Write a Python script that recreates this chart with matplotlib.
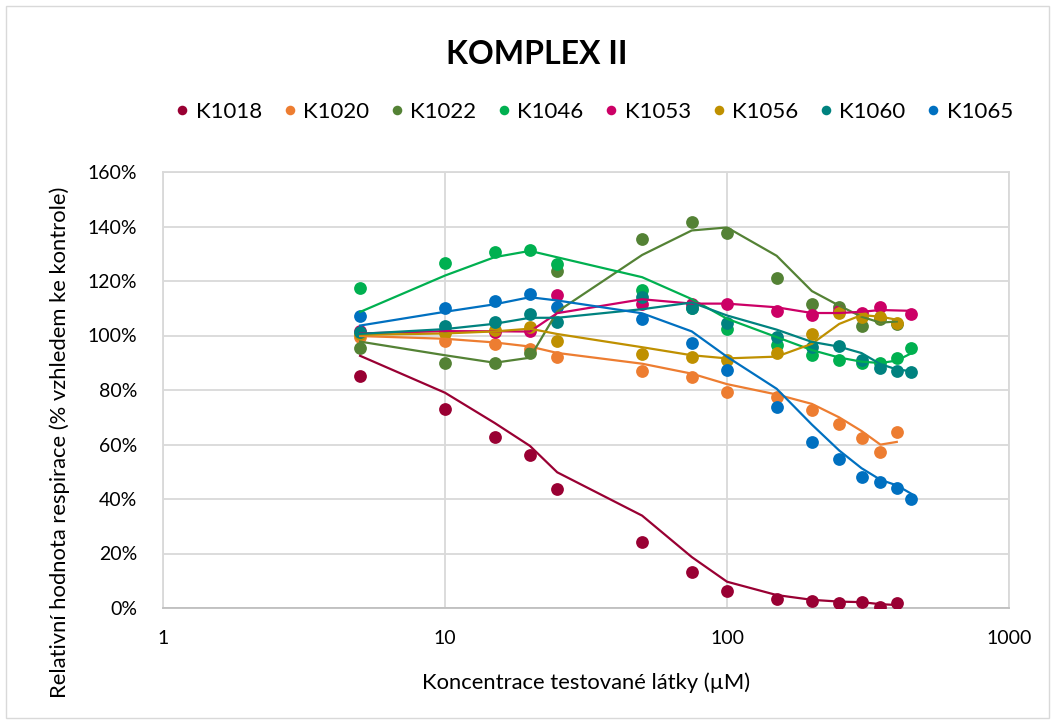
import matplotlib
matplotlib.use("Agg")
import matplotlib.pyplot as plt
from matplotlib.ticker import FuncFormatter, FixedLocator, NullLocator
from matplotlib.patches import Rectangle
import pandas as pd

plt.rcParams['font.family'] = ['Lato', 'DejaVu Sans']

# ---- data ----
control = 100.0  # control value (concentration 0, not shown on log axis)

names = ["K1018", "K1020", "K1022", "K1046", "K1053", "K1056", "K1060", "K1065"]
colors = ["#990033", "#ED7D31", "#548235", "#00B050", "#CC0066", "#BF9000", "#00827F", "#0070C0"]

x_K1018 = [5, 10, 15, 20, 25, 50, 75, 100, 150, 200, 250, 300, 350, 400]
y_K1018 = [85.1, 72.9, 62.9, 56.1, 43.5, 24.3, 13.1, 6.2, 3.3, 2.7, 2.0, 2.3, 0.5, 1.7]

x_K1020 = [5, 10, 15, 20, 25, 50, 75, 100, 150, 200, 250, 300, 350, 400]
y_K1020 = [99.6, 98.0, 96.9, 95.0, 92.2, 87.1, 84.9, 79.4, 77.3, 72.5, 67.4, 62.5, 57.4, 64.5]

x_K1022 = [5, 10, 15, 20, 25, 50, 75, 100, 150, 200, 250, 300, 350, 400]
y_K1022 = [95.5, 90.0, 90.0, 93.7, 123.8, 135.3, 141.8, 137.5, 121.0, 111.6, 110.3, 103.5, 105.9, 104.4]

x_K1046 = [5, 10, 15, 20, 25, 50, 75, 100, 150, 200, 250, 300, 350, 400, 450]
y_K1046 = [117.3, 126.7, 130.8, 131.3, 126.1, 116.7, 110.0, 102.3, 96.5, 92.8, 91.0, 89.8, 90.0, 91.6, 95.3]

x_K1053 = [5, 10, 15, 20, 25, 50, 75, 100, 150, 200, 250, 300, 350, 450]
y_K1053 = [101.5, 101.7, 101.4, 101.5, 114.9, 111.7, 111.7, 111.7, 109.0, 107.5, 109.0, 108.4, 110.3, 107.8]

x_K1056 = [5, 10, 15, 20, 25, 50, 75, 100, 150, 200, 250, 300, 350, 400]
y_K1056 = [100.5, 101.0, 102.0, 103.0, 98.1, 93.3, 92.2, 91.0, 93.5, 100.4, 108.1, 106.9, 106.9, 104.7]

x_K1060 = [5, 10, 15, 20, 25, 50, 75, 100, 150, 200, 250, 300, 350, 400, 450]
y_K1060 = [101.2, 103.5, 105.1, 107.9, 105.1, 114.2, 110.0, 104.7, 99.6, 95.7, 96.1, 91.0, 88.0, 87.1, 86.7]

x_K1065 = [5, 10, 15, 20, 25, 50, 75, 100, 150, 200, 250, 300, 350, 400, 450]
y_K1065 = [107.3, 110.1, 112.8, 115.3, 110.4, 105.9, 97.1, 87.3, 73.6, 61.0, 54.6, 48.0, 46.1, 43.9, 40.0]

xs = [x_K1018, x_K1020, x_K1022, x_K1046, x_K1053, x_K1056, x_K1060, x_K1065]
ys = [y_K1018, y_K1020, y_K1022, y_K1046, y_K1053, y_K1056, y_K1060, y_K1065]

x_ticks = [1, 10, 100, 1000]
x_tick_labels = ["1", "10", "100", "1000"]
y_ticks = [0, 20, 40, 60, 80, 100, 120, 140, 160]

title = "KOMPLEX II"
xlabel = "Koncentrace testované látky (µM)"
ylabel = "Relativní hodnota respirace (% vzhledem ke kontrole)"

# ---- figure ----
W, H = 1055, 722
fig = plt.figure(figsize=(W / 100, H / 100), dpi=100)
ax = fig.add_axes([163 / W, 1 - 608 / H, (1009 - 163) / W, (608 - 172) / H])

grid_c = "#D9D9D9"
for i, (name, c, xv, yv) in enumerate(zip(names, colors, xs, ys)):
    yv_frac = [v / 100 for v in yv]
    ax.plot(xv, yv_frac, linestyle="none", marker="o", ms=9.2, color=c,
            markeredgewidth=0, label=name, zorder=3 + i * 0.01)
    # 2-period moving-average trendline (first period includes the 100 % control)
    s = pd.Series([control] + list(yv)).rolling(2).mean().iloc[1:] / 100
    ax.plot(xv, s.values, color=c, lw=1.6, zorder=5 + i * 0.01, solid_joinstyle="round")

ax.set_xscale("log")
ax.set_xlim(1, 1000)
ax.set_ylim(0, 1.6)
ax.xaxis.set_major_locator(FixedLocator(x_ticks))
ax.xaxis.set_minor_locator(NullLocator())
ax.set_xticklabels(x_tick_labels)
ax.set_yticks([v / 100 for v in y_ticks])
ax.yaxis.set_major_formatter(FuncFormatter(lambda v, p: f"{v*100:.0f}%"))
ax.tick_params(axis="both", length=0, labelsize=14, colors="#000000")
ax.tick_params(axis="x", pad=16)
ax.tick_params(axis="y", pad=18.5)
ax.grid(True, which="major", color=grid_c, lw=1.3)
ax.set_axisbelow(True)
for sp in ax.spines.values():
    sp.set_color(grid_c)
    sp.set_linewidth(1.3)
ax.spines["bottom"].set_color("#BFBFBF")

fig.text(586 / W, 1 - 683 / H, xlabel, ha="center", va="center", fontsize=15.8)
fig.text(60 / W, 1 - 442 / H, ylabel, ha="center", va="center", fontsize=15.8, rotation=90)

fig.text(537 / W, 1 - 55 / H, title, ha="center", va="center", fontsize=23, fontweight="bold")

leg = fig.legend(loc="center", bbox_to_anchor=(592 / W, 1 - 112 / H), ncol=8, frameon=False,
                 fontsize=16, handletextpad=0.1, columnspacing=0.75, handlelength=1.0,
                 markerscale=0.75)

# outer chart border
fig.patches.append(Rectangle((6 / W, 4 / H), 1 - 12 / W, 1 - 10 / H, transform=fig.transFigure,
                             fill=False, edgecolor="#D9D9D9", lw=1.0))

fig.savefig("out.png", dpi=100)
